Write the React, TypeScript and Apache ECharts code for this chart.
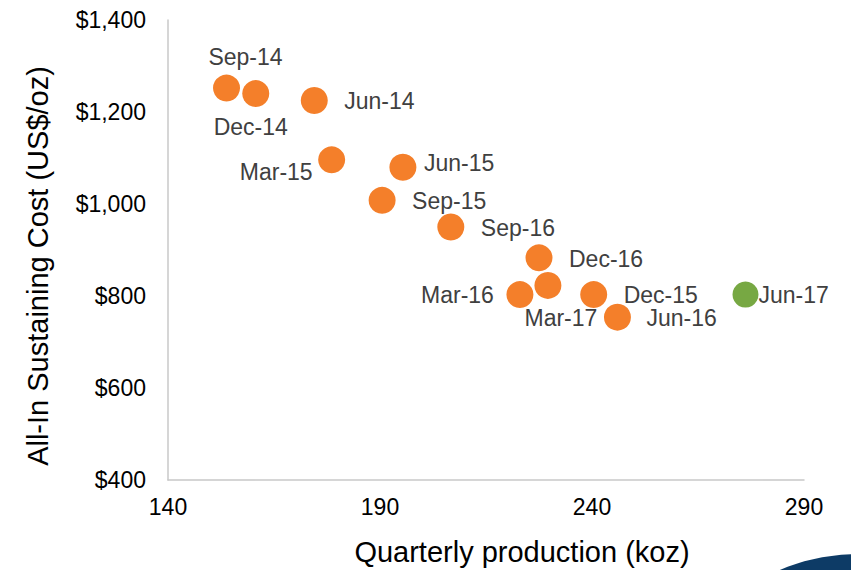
import React, { useEffect, useRef } from "react";
import * as echarts from "echarts";

const quarters = ["Sep-14", "Dec-14", "Jun-14", "Mar-15", "Jun-15", "Sep-15", "Sep-16", "Dec-16", "Mar-16", "Mar-17", "Dec-15", "Jun-16", "Jun-17"];
const production = [153.8, 160.7, 174.5, 178.6, 195.4, 190.5, 206.7, 227.5, 223.0, 229.6, 240.4, 246.0, 276.2];
const aisc = [1252, 1240, 1225, 1096, 1080, 1008, 950, 883, 803, 823, 803, 754, 803];
const highlighted = ["Jun-17"];
const xTicks = [140, 190, 240, 290];
const yTicks = [400, 600, 800, 1000, 1200, 1400];

// label placement (style only): [align, dx, dy] in pixels from the point
const labelPlacement: Record<string, [string, number, number]> = {
  "Sep-14": ["center", 19, -31],
  "Dec-14": ["center", -5, 33],
  "Jun-14": ["left", 30, 0],
  "Mar-15": ["right", -19, 12],
  "Jun-15": ["left", 21, -4],
  "Sep-15": ["left", 30, 1],
  "Sep-16": ["left", 30, 1],
  "Dec-16": ["left", 30, 1],
  "Mar-16": ["right", -26, 0],
  "Mar-17": ["center", 13, 33],
  "Dec-15": ["left", 30, 0],
  "Jun-16": ["left", 29, 1],
  "Jun-17": ["left", 13, 0],
};

const FONT = "'Liberation Sans', Arial, sans-serif";

export default function App() {
  const ref = useRef<HTMLDivElement>(null);
  useEffect(() => {
    if (!ref.current) return;
    const chart = echarts.init(ref.current, null, { renderer: "svg" });
    const points = quarters.map((q, i) => {
      const isHi = highlighted.includes(q);
      return {
        name: q,
        value: [production[i], aisc[i]],
        symbolSize: isHi ? 26 : 27,
        itemStyle: { color: isHi ? "#77A843" : "#F47F2A", opacity: 1 },
      };
    });
    const labelData = quarters.map((q, i) => ({ name: q, value: [production[i], aisc[i]] }));
    chart.setOption({
      animation: false,
      backgroundColor: "#ffffff",
      grid: { left: 168, right: 47, top: 20, bottom: 90, containLabel: false },
      xAxis: {
        type: "value",
        min: xTicks[0],
        max: xTicks[xTicks.length - 1],
        interval: 50,
        axisLine: { show: true, lineStyle: { color: "#c8c8c8", width: 1.5 } },
        axisTick: { show: false },
        splitLine: { show: false },
        axisLabel: { color: "#000", fontSize: 23, fontFamily: FONT, margin: 15 },
      },
      yAxis: {
        type: "value",
        min: yTicks[0],
        max: yTicks[yTicks.length - 1],
        interval: 200,
        axisLine: { show: true, lineStyle: { color: "#c8c8c8", width: 1.5 } },
        axisTick: { show: false },
        splitLine: { show: false },
        axisLabel: {
          color: "#000",
          fontSize: 23,
          fontFamily: FONT,
          margin: 22,
          formatter: (v: number) => "$" + v.toLocaleString("en-US"),
        },
      },
      graphic: [
        {
          type: "text",
          x: 38,
          y: 266,
          rotation: Math.PI / 2,
          style: {
            text: "All-In Sustaining Cost (US$/oz)",
            fill: "#000",
            fontSize: 29,
            fontFamily: FONT,
            align: "center",
            verticalAlign: "middle",
          },
        },
        {
          type: "text",
          x: 522,
          y: 552,
          style: {
            text: "Quarterly production (koz)",
            fill: "#000",
            fontSize: 29,
            fontFamily: FONT,
            align: "center",
            verticalAlign: "middle",
          },
        },
        {
          type: "ellipse",
          shape: { cx: 860, cy: 640, rx: 138, ry: 86 },
          style: { fill: "#0d3b66" },
          silent: true,
        },
      ],
      series: [
        {
          type: "scatter",
          data: points,
          z: 2,
        },
        {
          type: "custom",
          data: labelData,
          z: 3,
          silent: true,
          renderItem: (params: any, api: any) => {
            const idx = params.dataIndex;
            const q = quarters[idx];
            const p = api.coord([api.value(0), api.value(1)]);
            const [align, dx, dy] = labelPlacement[q];
            return {
              type: "text",
              x: p[0] + dx,
              y: p[1] + dy,
              style: {
                text: q,
                fill: "#404040",
                fontSize: 23,
                fontFamily: FONT,
                align,
                verticalAlign: "middle",
              },
            };
          },
        },
      ],
    });
    return () => chart.dispose();
  }, []);
  return <div ref={ref} style={{ width: 851, height: 570, position: "absolute", left: 0, top: 0 }} />;
}
